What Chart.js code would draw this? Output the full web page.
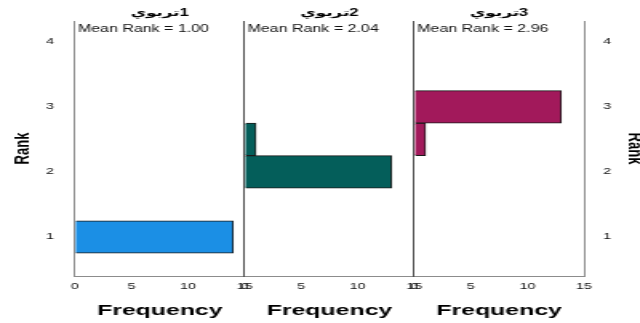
<!DOCTYPE html>
<html>
<head>
<meta charset="utf-8">
<script src="https://cdn.jsdelivr.net/npm/chart.js@4.4.1/dist/chart.umd.min.js"></script>
<style>
  html, body { margin: 0; padding: 0; background: #fff; }
  #wrap { position: relative; width: 640px; height: 323px; overflow: hidden; background: #fff; }
  #c { display: block; }
</style>
</head>
<body>
<div id="wrap"><canvas id="c" width="410" height="323" style="width:656px;height:323px"></canvas></div>
<script>
// ---- data ----
const rankBins   = [1, 1.5, 2, 2.5, 3, 3.5, 4];
const rankTicks  = [1, 2, 3, 4];
const freqTicks  = [0, 5, 10, 15];
const groupLabels = ['تربوي1', 'تربوي2', 'تربوي3'];
const meanRanks  = [1.00, 2.04, 2.96];
const freqGroup1 = [14, 0, 0, 0, 0, 0, 0];
const freqGroup2 = [0, 0, 13, 1, 0, 0, 0];
const freqGroup3 = [0, 0, 0, 1, 13, 0, 0];
const rankAxisMin = 0.4;
const rankAxisMax = 4.32;
const freqAxisMax = 15;

// ---- styles ----
const FONT = "'Liberation Sans', Arial, sans-serif";
const barColors = ['#1B8FE5', '#045E5A', '#A2195B'];
const lineGray = 'rgba(0,0,0,0.45)';

Chart.defaults.font.family = FONT;

const series = [freqGroup1, freqGroup2, freqGroup3];
const datasets = series.map((vals, i) => ({
  label: groupLabels[i],
  data: rankBins.map((r, j) => ({ x: vals[j], y: r })),
  xAxisID: 'x' + (i + 1),
  yAxisID: 'y',
  backgroundColor: (c) => (c.raw && c.raw.x > 0 ? barColors[i] : 'rgba(0,0,0,0)'),
  borderColor: (c) => (c.raw && c.raw.x > 0 ? '#1a1a1a' : 'rgba(0,0,0,0)'),
  borderWidth: (c) => (c.raw && c.raw.x > 0 ? 1 : 0),
  borderSkipped: 'start',
  grouped: false,
  barPercentage: 1,
  categoryPercentage: 1
}));

function freqAxis() {
  return {
    type: 'linear',
    position: 'bottom',
    stack: 'freq',
    stackWeight: 1,
    offset: false,
    min: 0,
    max: freqAxisMax,
    afterBuildTicks: (s) => { s.ticks = freqTicks.map(v => ({ value: v })); },
    afterFit: (s) => { s.height = 47; },
    grid: {
      display: true,
      drawTicks: false,
      drawOnChartArea: true,
      lineWidth: 1,
      color: (c) => (c.tick && (c.tick.value === 0 || c.tick.value === freqAxisMax)) ? lineGray : 'rgba(0,0,0,0)'
    },
    border: { display: true, color: lineGray, width: 1 },
    ticks: { padding: 5, color: '#111', autoSkip: false, maxRotation: 0, font: { family: FONT, size: 9 } },
    title: {
      display: true, text: 'Frequency', color: '#000',
      font: { family: FONT, size: 15.5, weight: 'bold' },
      padding: { top: 0, bottom: 3 }
    }
  };
}

function rankAxis(position) {
  const left = position === 'left';
  return {
    type: 'linear',
    position: position,
    offset: false,
    min: rankAxisMin,
    max: rankAxisMax,
    afterBuildTicks: (s) => { s.ticks = rankTicks.map(v => ({ value: v })); },
    afterFit: (s) => { s.width = left ? 46.875 : 40; },
    grid: { display: false, offset: false },
    border: { display: false },
    ticks: { padding: left ? 5 : 4, color: '#111', font: { family: FONT, size: 9 } },
    title: {
      display: true, text: 'Rank', color: '#000',
      font: { family: FONT, size: 13, weight: 'bold' },
      padding: { top: left ? 7 : 1, bottom: 0 }
    }
  };
}

const panelText = {
  id: 'panelText',
  afterDraw(chart) {
    const ctx = chart.ctx;
    const top = chart.chartArea.top;
    ctx.save();
    ['x1', 'x2', 'x3'].forEach((id, i) => {
      const s = chart.scales[id];
      ctx.fillStyle = '#000';
      ctx.textAlign = 'center';
      ctx.textBaseline = 'middle';
      ctx.font = "bold 10.5px 'Liberation Sans', 'DejaVu Sans', sans-serif";
      ctx.fillText(groupLabels[i].replace(/(\d+)$/, '\u200E$1'), (s.left + s.right) / 2, top - 7.5);
      ctx.textAlign = 'left';
      ctx.fillStyle = '#111';
      ctx.font = "10px " + FONT;
      ctx.fillText('Mean Rank = ' + meanRanks[i].toFixed(2), s.getPixelForValue(0) + 1.8, top + 8);
    });
    ctx.restore();
  }
};

new Chart(document.getElementById('c'), {
  type: 'bar',
  data: { datasets: datasets },
  options: {
    indexAxis: 'y',
    responsive: false,
    devicePixelRatio: 1,
    animation: false,
    layout: { padding: { left: 0, right: 5, top: 21, bottom: 0 } },
    plugins: { legend: { display: false }, tooltip: { enabled: false } },
    scales: {
      x1: freqAxis(),
      x2: freqAxis(),
      x3: freqAxis(),
      y: rankAxis('left'),
      y2: rankAxis('right')
    }
  },
  plugins: [panelText]
});
</script>
</body>
</html>
